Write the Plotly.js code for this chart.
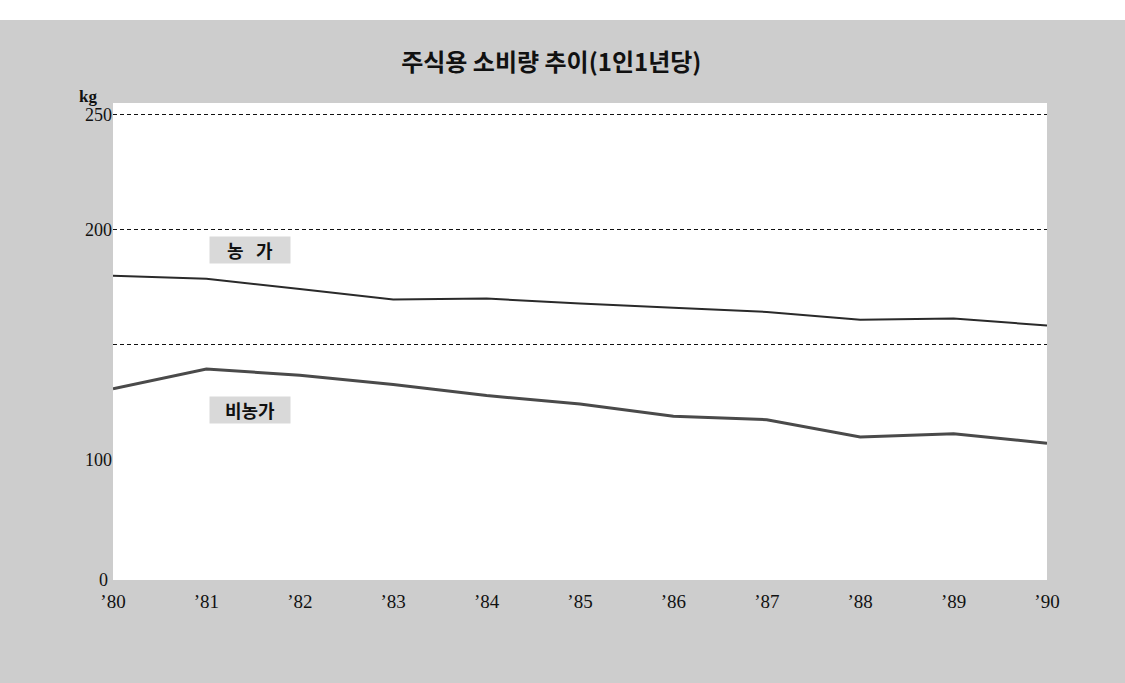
<!DOCTYPE html>
<html>
<head>
<meta charset="utf-8">
<script src="https://cdn.plot.ly/plotly-3.0.1.min.js"></script>
<style>html,body{margin:0;padding:0;background:#cbcbcb;}#chart{width:1125px;height:683px;}</style>
</head>
<body>
<div id="chart"></div>
<script>
// Data
const years = [1980, 1981, 1982, 1983, 1984, 1985, 1986, 1987, 1988, 1989, 1990];
const yearLabels = ["’80", "’81", "’82", "’83", "’84", "’85", "’86", "’87", "’88", "’89", "’90"];
const farmValues = [180.0, 178.7, 174.2, 169.7, 170.1, 167.9, 166.1, 164.3, 160.9, 161.4, 158.4];
const nonFarmValues = [130.9, 139.5, 136.8, 132.8, 128.0, 124.3, 119.0, 117.5, 110.0, 111.4, 107.3];
const upperTicks = [100, 150, 200, 250];
const upperTickText = ["100", "", "200", "250"];
const lowerTicks = [0];
const lowerTickText = ["0"];
const titleText = "주식용 소비량 추이(1인1년당)";
const farmLabel = "농 &nbsp; 가";
const nonFarmLabel = "비농가";
const unitLabel = "kg";

const serif = "Liberation Serif, DejaVu Serif, serif";
const kr = "Noto Sans CJK KR, Noto Sans, sans-serif";

const traces = [
  {x: years, y: farmValues, type: "scatter", mode: "lines", xaxis: "x", yaxis: "y",
   line: {color: "#2a2a2a", width: 2}, showlegend: false, hoverinfo: "skip"},
  {x: years, y: nonFarmValues, type: "scatter", mode: "lines", xaxis: "x", yaxis: "y",
   line: {color: "#4a4a4a", width: 3}, showlegend: false, hoverinfo: "skip"},
  // invisible helper so the lower (broken) axis segment is drawn
  {x: [years[0]], y: [lowerTicks[0]], type: "scatter", mode: "markers", xaxis: "x", yaxis: "y2",
   marker: {opacity: 0}, showlegend: false, hoverinfo: "skip"}
];

const lowerFrac = 0.2516;

const layout = {
  width: 1125, height: 683,
  margin: {l: 113, r: 78, t: 103, b: 103},
  paper_bgcolor: "#cdcdcd",
  plot_bgcolor: "#ffffff",
  showlegend: false,
  title: {text: "<b>" + titleText + "</b>", x: 0.49, xanchor: "center", y: 0.909, yanchor: "middle",
          font: {family: kr, size: 24, color: "#111"}},
  xaxis: {
    range: [1980, 1990], anchor: "y2",
    tickvals: years, ticktext: yearLabels,
    showgrid: false, zeroline: false, showline: false, ticks: "",
    ticklabelstandoff: 8,
    tickfont: {family: serif, size: 19, color: "#111"},
    fixedrange: true
  },
  yaxis: {
    domain: [lowerFrac, 1], range: [100, 255], anchor: "x",
    tickvals: upperTicks, ticktext: upperTickText,
    showgrid: true, gridcolor: "#111", gridwidth: 1, griddash: "4px,3px",
    zeroline: false, showline: false, ticks: "",
    tickfont: {family: serif, size: 18, color: "#111"},
    fixedrange: true
  },
  yaxis2: {
    domain: [0, lowerFrac], range: [0, 100], anchor: "x",
    tickvals: lowerTicks, ticktext: lowerTickText,
    showgrid: false, zeroline: false, showline: false, ticks: "",
    ticklabelstandoff: 4,
    tickfont: {family: serif, size: 18, color: "#111"},
    fixedrange: true
  },
  shapes: [
    {type: "rect", xref: "paper", yref: "paper", x0: -0.2, x1: 1.2, y0: 1.174, y1: 1.3,
     fillcolor: "#ffffff", line: {width: 0}, layer: "below"}
  ],
  annotations: [
    {text: "<b>" + unitLabel + "</b>", xref: "paper", yref: "paper", x: -0.027, y: 1.014, xanchor: "center", yanchor: "middle",
     showarrow: false, font: {family: serif, size: 17, color: "#111"}},
    {text: "<b>" + farmLabel + "</b>", xref: "x", yref: "y", x: 1981.47, y: 191.3,
     showarrow: false, bgcolor: "#d9d9d9", borderpad: 2, width: 76, height: 22,
     font: {family: kr, size: 18, color: "#111"}},
    {text: "<b>" + nonFarmLabel + "</b>", xref: "x", yref: "y", x: 1981.47, y: 121.7,
     showarrow: false, bgcolor: "#d9d9d9", borderpad: 2, width: 76, height: 22,
     font: {family: kr, size: 18, color: "#111"}}
  ]
};

Plotly.newPlot("chart", traces, layout, {displayModeBar: false, staticPlot: true});
</script>
</body>
</html>
